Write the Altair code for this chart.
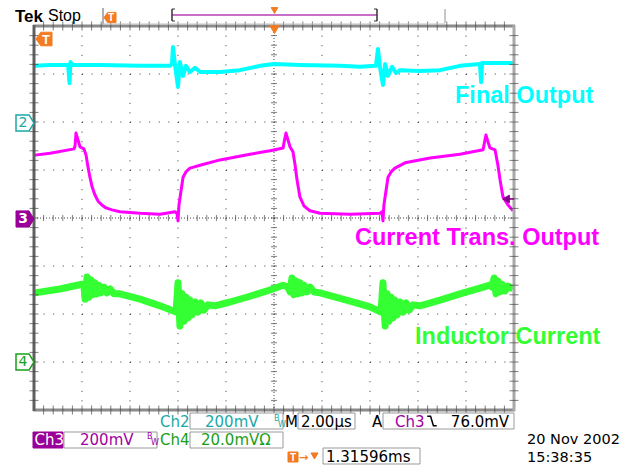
import altair as alt
import pandas as pd

# ---------------- data (time in microseconds, amplitude in divisions) ----------------
CYAN = [(0.04, 3.17), (0.67, 3.19), (1.42, 3.19), (1.48, 2.81), (1.52, 3.25), (1.58, 3.19),
        (2.75, 3.19), (4.42, 3.17), (5.67, 3.17), (5.75, 3.21), (5.79, 3.56), (5.88, 3.17),
        (6.00, 2.73), (6.08, 3.25), (6.21, 2.96), (6.33, 3.17), (6.50, 3.04), (6.71, 3.13),
        (6.92, 3.04), (7.75, 3.04), (8.58, 3.08), (9.42, 3.17), (10.00, 3.21), (11.08, 3.19),
        (12.75, 3.17), (13.58, 3.15), (14.25, 3.17), (14.33, 3.52), (14.42, 3.13), (14.54, 2.77),
        (14.63, 3.21), (14.75, 2.96), (14.92, 3.15), (15.08, 3.02), (15.25, 3.08), (16.08, 3.06),
        (16.92, 3.08), (17.75, 3.17), (18.58, 3.21), (18.63, 2.83), (18.67, 3.23), (19.42, 3.23),
        (19.96, 3.23)]

MAGENTA = [(0.04, 1.31), (0.67, 1.35), (1.67, 1.44), (1.71, 1.50), (1.75, 1.77), (1.83, 1.63),
           (1.92, 1.48), (2.08, 1.44), (2.17, 1.31), (2.25, 1.06), (2.33, 0.85), (2.42, 0.65),
           (2.54, 0.48), (2.67, 0.35), (2.83, 0.27), (3.00, 0.21), (3.25, 0.17), (3.58, 0.13),
           (4.42, 0.10), (5.25, 0.08), (5.88, 0.13), (5.96, 0.10), (6.00, -0.06), (6.04, 0.27),
           (6.13, 0.58), (6.21, 0.85), (6.33, 0.96), (6.50, 1.04), (6.92, 1.10), (7.75, 1.21),
           (9.00, 1.33), (9.83, 1.40), (10.38, 1.46), (10.42, 1.58), (10.50, 1.77), (10.58, 1.63),
           (10.67, 1.48), (10.79, 1.38), (10.88, 1.10), (10.96, 0.79), (11.08, 0.44), (11.25, 0.25),
           (11.50, 0.15), (11.92, 0.10), (13.17, 0.08), (14.42, 0.10), (14.50, 0.13), (14.54, -0.06),
           (14.58, 0.27), (14.67, 0.58), (14.75, 0.85), (14.88, 0.96), (15.04, 1.04), (15.46, 1.15),
           (16.50, 1.25), (17.75, 1.33), (18.71, 1.42), (18.75, 1.52), (18.83, 1.73), (18.92, 1.58),
           (19.00, 1.46), (19.21, 1.42), (19.33, 1.10), (19.42, 0.79), (19.54, 0.44), (19.75, 0.27),
           (19.96, 0.15)]

GREEN = [(0.04, -1.56), (1.08, -1.48), (2.00, -1.38), (2.08, -1.42), (2.13, -1.69), (2.21, -1.23),
         (2.29, -1.65), (2.38, -1.29), (2.46, -1.60), (2.54, -1.35), (2.63, -1.58), (2.71, -1.40),
         (2.79, -1.56), (2.92, -1.44), (3.04, -1.56), (3.17, -1.48), (3.33, -1.58), (3.58, -1.58),
         (4.42, -1.69), (5.25, -1.83), (5.92, -1.96), (6.00, -1.35), (6.08, -2.25), (6.17, -1.58),
         (6.25, -2.15), (6.33, -1.65), (6.42, -2.08), (6.50, -1.71), (6.58, -2.02), (6.71, -1.75),
         (6.83, -1.96), (6.96, -1.77), (7.08, -1.92), (7.25, -1.81), (7.54, -1.83), (8.17, -1.75),
         (9.00, -1.63), (9.83, -1.50), (10.38, -1.40), (10.58, -1.44), (10.67, -1.54), (10.75, -1.25),
         (10.83, -1.60), (10.92, -1.31), (11.00, -1.58), (11.08, -1.35), (11.17, -1.56), (11.25, -1.40),
         (11.38, -1.54), (11.50, -1.44), (11.67, -1.54), (11.92, -1.56), (13.17, -1.73), (14.00, -1.85),
         (14.46, -1.96), (14.54, -1.35), (14.63, -2.25), (14.71, -1.58), (14.79, -2.15), (14.88, -1.65),
         (14.96, -2.08), (15.04, -1.71), (15.13, -2.02), (15.25, -1.75), (15.38, -1.96), (15.50, -1.77),
         (15.63, -1.92), (15.79, -1.81), (16.08, -1.83), (16.92, -1.71), (17.75, -1.58), (18.58, -1.46),
         (19.00, -1.40), (19.08, -1.44), (19.17, -1.25), (19.25, -1.58), (19.33, -1.31), (19.42, -1.54),
         (19.50, -1.38), (19.63, -1.52), (19.75, -1.42), (19.96, -1.48)]

LABELS = ["Final Output", "Current Trans. Output", "Inductor Current"]
VGRID = [2, 4, 6, 8, 12, 14, 16, 18]          # µs
HGRID = [-3, -2, -1, 1, 2, 3]                 # divisions
XMAX, YMAX = 20, 4

# ---------------- layout ----------------
L, T = 34, 26
W, H = 480, 384
xs = alt.Scale(domain=[0, XMAX], nice=False, zero=False)
ys = alt.Scale(domain=[-YMAX, YMAX], nice=False, zero=False)

C_CY, C_MG, C_GR = "#00FFFF", "#FF00FF", "#33FF33"
C_CH2, C_CH3, C_CH4 = "#1AA8A8", "#A000A0", "#18A018"
ORANGE = "#F47B20"
FONT = "DejaVu Sans"

one = pd.DataFrame({"k": [0]})


def X(f):
    return alt.X(f, type="quantitative", scale=xs, axis=None)


def Y(f):
    return alt.Y(f, type="quantitative", scale=ys, axis=None)


def P(x, y):
    return dict(x=alt.value(x - L), y=alt.value(y - T))


def text(s, x, y, color="#000", size=15, weight="normal", align="left", font=FONT, baseline="alphabetic"):
    return alt.Chart(one).mark_text(text=s, color=color, fontSize=size, fontWeight=weight,
                                    align=align, baseline=baseline, font=font).encode(**P(x, y))


def box(x1, y1, x2, y2, fill="white", stroke="#9a9a9a", sw=1):
    return alt.Chart(one).mark_rect(fill=fill, stroke=stroke, strokeWidth=sw).encode(
        x=alt.value(x1 - L), x2=alt.value(x2 - L), y=alt.value(y1 - T), y2=alt.value(y2 - T))


def seg(x1, y1, x2, y2, color="#888", sw=1, dash=None):
    kw = dict(color=color, strokeWidth=sw)
    if dash:
        kw["strokeDash"] = dash
    return alt.Chart(one).mark_rule(**kw).encode(
        x=alt.value(x1 - L), x2=alt.value(x2 - L), y=alt.value(y1 - T), y2=alt.value(y2 - T))


def shape(path, x, y, size, fill, stroke=None, sw=1, filled=True):
    kw = dict(shape=path, size=size, opacity=1, strokeWidth=sw, filled=filled)
    if filled:
        kw["fill"] = fill
    kw["stroke"] = stroke if stroke else fill
    return alt.Chart(one).mark_point(**kw).encode(**P(x, y))


def trace(pairs, color, sw):
    df = pd.DataFrame(pairs, columns=["t", "v"])
    df["i"] = range(len(df))
    return alt.Chart(df).mark_line(color=color, strokeWidth=sw, strokeJoin="round").encode(
        x=X("t"), y=Y("v"), order=alt.Order("i:Q"))


layers = []

# dotted graticule
vg = pd.DataFrame({"t": VGRID, "a": YMAX, "b": -YMAX})
layers.append(alt.Chart(vg).mark_rule(color="#333", strokeWidth=1, strokeDash=[1, 8.6]).encode(
    x=X("t"), y=Y("a"), y2="b"))
hg = pd.DataFrame({"v": HGRID, "a": 0, "b": XMAX})
layers.append(alt.Chart(hg).mark_rule(color="#333", strokeWidth=1, strokeDash=[1, 8.6]).encode(
    y=Y("v"), x=X("a"), x2="b"))

# centre lines
layers.append(alt.Chart(pd.DataFrame({"t": [XMAX / 2], "a": [YMAX], "b": [-YMAX]})).mark_rule(
    color="#444", strokeDash=[1, 2]).encode(x=X("t"), y=Y("a"), y2="b"))
layers.append(alt.Chart(pd.DataFrame({"v": [0], "a": [0], "b": [XMAX]})).mark_rule(
    color="#444", strokeDash=[1, 2]).encode(y=Y("v"), x=X("a"), x2="b"))

tick_t = [round(i * 0.4, 2) for i in range(1, 50)]
tick_v = [round(-4 + i * 0.2, 2) for i in range(1, 40)]
ct1 = pd.DataFrame({"t": tick_t, "v": 0})
layers.append(alt.Chart(ct1).mark_tick(orient="vertical", size=6, thickness=1, color="#444").encode(
    x=X("t"), y=Y("v")))
ct2 = pd.DataFrame({"v": tick_v, "t": XMAX / 2})
layers.append(alt.Chart(ct2).mark_tick(orient="horizontal", size=6, thickness=1, color="#444").encode(
    x=X("t"), y=Y("v")))

# traces
layers.append(trace(CYAN, C_CY, 4))
layers.append(trace(MAGENTA, C_MG, 3))
layers.append(trace(GREEN, C_GR, 7))

# border
layers.append(seg(33, 26, 515, 26, "#8a8a8a", 3))
layers.append(seg(33, 410, 515, 410, "#8a8a8a", 3))
layers.append(seg(34, 25, 34, 411, "#606060", 3))
layers.append(seg(514, 25, 514, 411, "#a8a8a8", 3))
for vv in (YMAX, -YMAX):
    bt = pd.DataFrame({"t": tick_t, "v": vv})
    layers.append(alt.Chart(bt).mark_tick(orient="vertical", size=9, thickness=1, color="#444").encode(
        x=X("t"), y=Y("v")))
for tt in (0, XMAX):
    bt = pd.DataFrame({"v": tick_v, "t": tt})
    layers.append(alt.Chart(bt).mark_tick(orient="horizontal", size=9, thickness=1, color="#444").encode(
        x=X("t"), y=Y("v")))

# channel ground markers
RP = "M-1,-0.9L0.45,-0.9L1,0L0.45,0.9L-1,0.9Z"
LP = "M1,-0.85L-0.4,-0.85L-1,0L-0.4,0.85L1,0.85Z"
layers.append(shape(RP, 25, 123, 324, "white", C_CH2, 1.5))
layers.append(text("2", 23, 123, C_CH2, 14, baseline="middle", align="center"))
layers.append(shape(RP, 25, 219, 324, "#990099", "#990099", 1))
layers.append(text("3", 23, 219, "white", 14, "bold", baseline="middle", align="center"))
layers.append(shape(RP, 25, 362, 324, "white", C_CH4, 1.5))
layers.append(text("4", 23, 362, C_CH4, 14, baseline="middle", align="center"))

# trigger markers
layers.append(shape(LP, 44, 39, 256, ORANGE))
layers.append(text("T", 46, 39.5, "white", 13, "bold", baseline="middle", align="center",
                   font="Liberation Sans"))
layers.append(shape("triangle-down", 274.5, 29.5, 90, ORANGE))
layers.append(seg(506, 199, 514, 199, "#8B008B", 1.5))
layers.append(shape("triangle-left", 506, 199, 60, "#8B008B"))

# trace labels
layers.append(text(LABELS[0], 455, 103, C_CY, 23.5, "bold", font="Liberation Sans"))
layers.append(text(LABELS[1], 355, 245, C_MG, 23.5, "bold", font="Liberation Sans"))
layers.append(text(LABELS[2], 415, 344, C_GR, 23.5, "bold", font="Liberation Sans"))

# top status bar
layers.append(text("Tek", 15, 21.5, "#000", 17, "bold", font="Liberation Sans"))
layers.append(text("Stop", 48, 21, "#000", 16, font="Liberation Sans"))
layers.append(seg(103, 8, 103, 25, "#b0b0b0", 2))
layers.append(seg(103, 24, 445, 24, "#c0c0c0", 1))
layers.append(seg(445, 9, 445, 23, "#c8c8c8", 2))
layers.append(shape(LP, 110, 17.5, 144, ORANGE))
layers.append(text("T", 111, 18, "white", 10, "bold", baseline="middle", align="center",
                   font="Liberation Sans"))
layers.append(seg(172, 15, 377, 15, "#C86FC8", 2))
layers.append(seg(172, 9, 172, 21, "#333", 1.5))
layers.append(seg(172, 9, 175, 9, "#333", 1))
layers.append(seg(172, 21, 175, 21, "#333", 1))
layers.append(seg(377, 9, 377, 21, "#333", 1.5))
layers.append(seg(374, 9, 377, 9, "#333", 1))
layers.append(seg(374, 21, 377, 21, "#333", 1))
layers.append(shape("triangle-down", 274.5, 10.5, 45, ORANGE))

# bottom status row 1
layers.append(text("Ch2", 160, 426.5, C_CH2))
layers.append(box(190, 413, 283, 429))
layers.append(text("200mV", 205, 426.5, C_CH2))
layers.append(text("B", 274, 421, C_CH2, 8))
layers.append(text("W", 278, 427, C_CH2, 8))
layers.append(text("M", 285, 426.5, "#000"))
layers.append(box(298, 413, 355, 429))
layers.append(text("2.00µs", 301, 426.5, "#000"))
layers.append(text("A", 372, 426.5, "#000"))
layers.append(box(383, 413, 514, 429))
layers.append(text("Ch3", 395, 426.5, C_CH3))
layers.append(shape("M-1,-1L-0.3,-1L0.3,1L1,1", 432, 421, 90, "#000", "#000", 1.5, filled=False))
layers.append(text("76.0mV", 480, 426.5, "#000", align="center"))

# bottom status row 2
layers.append(box(33, 432, 63, 448, "#990099", "#990099"))
layers.append(text("Ch3", 34.5, 444.5, "white"))
layers.append(box(64, 432, 157, 448))
layers.append(text("200mV", 80, 444.5, C_CH3))
layers.append(text("B", 147, 439, C_CH3, 8))
layers.append(text("W", 151, 445, C_CH3, 8))
layers.append(text("Ch4", 160, 444.5, C_CH4))
layers.append(box(190, 432, 283, 448))
layers.append(text("20.0mVΩ", 201, 444.5, C_CH4))

# bottom status row 3
layers.append(box(288, 452, 298, 462, ORANGE, ORANGE))
layers.append(text("T", 293, 457.5, "white", 10, "bold", align="center", baseline="middle",
                   font="Liberation Sans"))
layers.append(text("→", 303.5, 457.5, ORANGE, 11, "bold", align="center", baseline="middle"))
layers.append(shape("triangle-down", 314.5, 456, 50, ORANGE))
layers.append(box(323, 448, 420, 464))
layers.append(text("1.31596ms", 326, 461.5, "#000"))
layers.append(text("20 Nov 2002", 527, 444, "#000", 14.5))
layers.append(text("15:38:35", 527, 461.5, "#000", 14.5))

chart = alt.layer(*layers).properties(
    width=W, height=H,
    padding={"left": L, "top": T, "right": 636 - L - W, "bottom": 466 - T - H},
    autosize=alt.AutoSizeParams(type="none"),
    background="white",
).configure_view(stroke=None)

chart.save("out.html", embed_options={"renderer": "svg", "actions": False})
